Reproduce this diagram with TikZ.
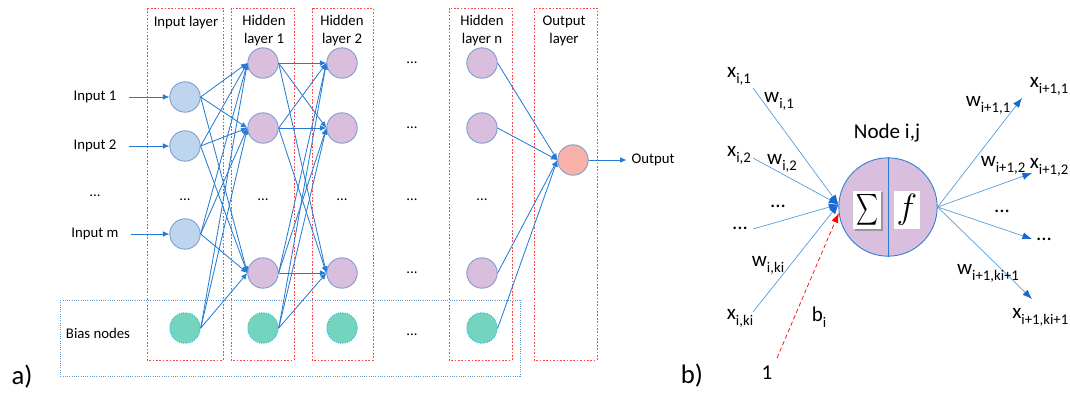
\documentclass[tikz,border=0pt]{standalone}
\usepackage{amsmath}
\usepackage{fontspec}
\setmainfont{Carlito}
\usetikzlibrary{arrows.meta}
\usetikzlibrary{shadows}

\definecolor{inpfill}{RGB}{189,214,238}
\definecolor{hidfill}{RGB}{218,190,222}
\definecolor{outfill}{RGB}{247,178,170}
\definecolor{biasfill}{RGB}{116,212,190}
\definecolor{biasline}{RGB}{40,182,222}
\definecolor{ringblue}{RGB}{125,152,205}
\definecolor{wireblue}{RGB}{38,124,212}
\definecolor{thinblue}{RGB}{84,158,226}
\definecolor{tipblue}{RGB}{22,104,210}
\definecolor{boxred}{RGB}{250,72,72}
\definecolor{boxblue}{RGB}{92,152,216}

\tikzstyle{unit}=[circle,draw=ringblue,line width=0.6pt,minimum size=7.6mm,inner sep=0pt]
\tikzstyle{inunit}=[unit,fill=inpfill]
\tikzstyle{hidunit}=[unit,fill=hidfill]
\tikzstyle{outunit}=[unit,fill=outfill]
\tikzstyle{biasunit}=[unit,fill=biasfill,draw=biasline,densely dotted,line width=0.8pt]
\tikzstyle{layerbox}=[draw=boxred,dash pattern=on 1.2pt off 1.2pt,line width=0.6pt]
\tikzstyle{wire}=[draw=wireblue,line width=0.6pt,-{Latex[length=1.6mm,width=1.4mm]}]
\tikzstyle{fan}=[draw=thinblue,line width=0.5pt,-{Latex[length=2.4mm,width=1.8mm,color=tipblue]}]
\tikzstyle{txt}=[font=\fontsize{10.5}{12.8}\selectfont,align=center]
\tikzstyle{big}=[font=\fontsize{15}{17}\selectfont]

% lowered index in the text font
\newcommand{\idx}[1]{\raisebox{-0.6ex}{\fontsize{10.5}{11}\selectfont#1}}

\begin{document}
\begin{tikzpicture}[x=0.25mm,y=-0.25mm]
\useasboundingbox (0,0) rectangle (1070,395);

% layer frames
\draw[layerbox] (147,8) rectangle (223,360);
\draw[layerbox] (231,8) rectangle (294,360);
\draw[layerbox] (312,8) rectangle (373,360);
\draw[layerbox] (449,8) rectangle (512,360);
\draw[layerbox] (534,8) rectangle (597,360);
\draw[draw=boxblue,densely dotted,line width=0.6pt] (60,300) rectangle (520,376);

\node[txt] at (186,23) {Input layer};
\node[txt] at (264,31) {Hidden\\layer 1};
\node[txt] at (342,31) {Hidden\\layer 2};
\node[txt] at (482,31) {Hidden\\layer n};
\node[txt] at (564,31) {Output\\layer};

% input layer
\node[inunit] (in1) at (185,97) {};
\node[inunit] (in2) at (185,146) {};
\node[inunit] (inm) at (185,234) {};
\node[biasunit] (inb) at (185,328) {};
\node[txt] at (185,200) {...};

% hidden layer 1
\node[hidunit] (ha1) at (263,63) {};
\node[hidunit] (ha2) at (263,128) {};
\node[hidunit] (ham) at (263,273) {};
\node[biasunit] (hab) at (263,328) {};
\node[txt] at (263,200) {...};

% hidden layer 2
\node[hidunit] (hb1) at (342,63) {};
\node[hidunit] (hb2) at (342,128) {};
\node[hidunit] (hbm) at (342,273) {};
\node[biasunit] (hbb) at (342,328) {};
\node[txt] at (342,200) {...};

% layers in between
\foreach \y in {63,128,200,273,335} \node[txt] at (412,\y) {...};

% hidden layer n
\node[hidunit] (hn1) at (482,63) {};
\node[hidunit] (hn2) at (482,128) {};
\node[hidunit] (hnm) at (482,273) {};
\node[biasunit] (hnb) at (482,328) {};
\node[txt] at (482,200) {...};

% output layer
\node[outunit] (out) at (573,160) {};

\foreach \s in {in1,in2,inm,inb}
  \foreach \t in {ha1,ha2,ham} \draw[wire] (\s.east) -- (\t.west);
\foreach \s in {ha1,ha2,ham,hab}
  \foreach \t in {hb1,hb2,hbm} \draw[wire] (\s.east) -- (\t.west);
\foreach \s in {hn1,hn2,hnm,hnb} \draw[wire] (\s.east) -- (out.west);

\node[txt] (lab1) at (95,97) {Input 1};
\node[txt] (lab2) at (95,146) {Input 2};
\node[txt] at (95,196) {...};
\node[txt] (labm) at (95,234) {Input m};
\node[txt] at (98,333) {Bias nodes};
\draw[wire,shorten <=2mm] (lab1.east) -- (in1);
\draw[wire,shorten <=2mm] (lab2.east) -- (in2);
\draw[wire,shorten <=2mm] (labm.east) -- (inm);

\node[txt] (outlab) at (653,160) {Output};
\draw[wire] (out) -- (outlab);

\node[font=\fontsize{19}{21}\selectfont] at (22,377) {a)};
\node[font=\fontsize{19}{21}\selectfont] at (692,376) {b)};

% single neuron
\node[circle,draw=wireblue,fill=hidfill,minimum size=24.6mm,line width=0.6pt] (cell) at (888,207) {};
\draw[wireblue,line width=0.5pt] (cell.north) -- (cell.south);
\node[fill=white,drop shadow={shadow xshift=1.2pt,shadow yshift=-1.2pt,fill=black!60},
  minimum width=7mm,minimum height=9.7mm,inner sep=0pt] (sumbox) at (867,210)
  {\fontsize{12.5}{12.5}\selectfont\scalebox{0.9}[1.3]{$\displaystyle\sum$}};
\node[fill=white,minimum width=6.3mm,minimum height=9.3mm,inner sep=0pt] (fbox) at (907,210)
  {\fontsize{27}{27}\selectfont$f$};
\node[big] at (887,133) {Node i,j};

\coordinate (s1) at (753,88);
\coordinate (s2) at (753,158);
\coordinate (s3) at (753,229);
\coordinate (s4) at (753,312);
\coordinate (s5) at (777,358);
\coordinate (t1) at (1022,98);
\coordinate (t2) at (1032,173);
\coordinate (t3) at (1032,239);
\coordinate (t4) at (1032,299);

\foreach \s in {s1,s2,s3,s4} \draw[fan] (\s) -- (cell.177);
\draw[draw=red,densely dashed,line width=0.5pt,-{Latex[length=2.4mm,width=1.8mm,color=red]}] (s5) -- (cell.187);
\foreach \t in {t1,t2,t3,t4} \draw[fan] (cell.east) -- (\t);

\node[big] at (739,76) {x\idx{i,1}};
\node[big] at (779,101) {w\idx{i,1}};
\node[big] at (739,155) {x\idx{i,2}};
\node[big] at (782,163) {w\idx{i,2}};
\node[big] at (778,206) {...};
\node[big] at (740,228) {...};
\node[big] at (768,265) {w\idx{i,ki}};
\node[big] at (740,318) {x\idx{i,ki}};
\node[big] at (819,317) {b\idx{i}};
\node[big] at (767,373) {1};

\node[big] at (988,105) {w\idx{i+1,1}};
\node[big] at (1049,86) {x\idx{i+1,1}};
\node[big] at (1003,165) {w\idx{i+1,2}};
\node[big] at (1049,167) {x\idx{i+1,2}};
\node[big] at (1002,211) {...};
\node[big] at (1044,239) {...};
\node[big] at (988,273) {w\idx{i+1,ki+1}};
\node[big,anchor=east,inner sep=1pt] at (1070,317) {x\idx{i+1,ki+1}};
\end{tikzpicture}
\end{document}
